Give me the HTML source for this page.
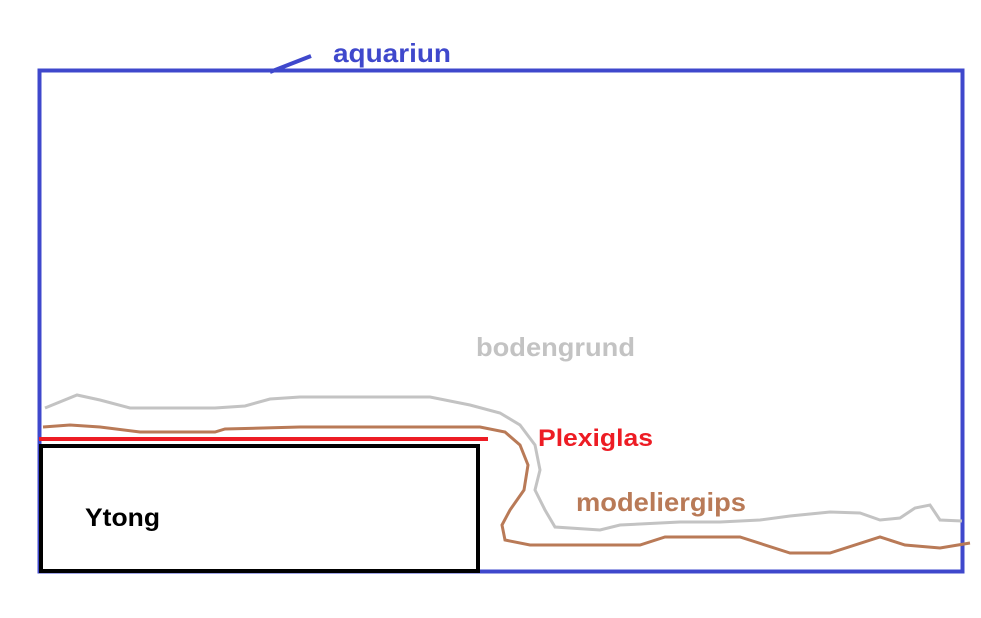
<!DOCTYPE html>
<html><head><style>
body{margin:0;background:#fff;}
svg{display:block}
text{font-family:"Liberation Sans",sans-serif;font-weight:bold}
</style></head><body>
<svg width="981" height="618" viewBox="0 0 981 618">
<rect x="0" y="0" width="981" height="618" fill="#fff"/>
<rect x="39.5" y="70.5" width="923" height="501" fill="none" stroke="#3f48cc" stroke-width="4"/>
<line x1="270" y1="72" x2="311" y2="56" stroke="#3f48cc" stroke-width="4"/>
<text x="333" y="62" font-size="26" fill="#3f48cc" textLength="118" lengthAdjust="spacingAndGlyphs">aquariun</text>
<polyline fill="none" stroke="#c3c3c3" stroke-width="3" points="45,408 77,395 100,400 130,408 215,408 245,406 270,399 300,397 430,397 470,405 500,413 520,425 535,445 540,470 535,490 545,510 555,527 600,530 620,525 680,522 720,522 760,520 790,516 830,512 860,513 880,520 900,518 915,508 930,505 940,520 962,521"/>
<polyline fill="none" stroke="#b97a57" stroke-width="3" points="43,427 70,425 100,427 140,432 215,432 225,429 300,427 480,427 505,432 520,445 528,465 524,490 510,510 502,525 505,540 530,545 640,545 665,537 740,537 790,553 830,553 880,537 905,545 940,548 970,543"/>
<rect x="41" y="446" width="437" height="125" fill="#fff" stroke="#000" stroke-width="4"/>
<line x1="39" y1="439" x2="488" y2="439" stroke="#ed1c24" stroke-width="4"/>
<text x="85" y="526" font-size="25" fill="#000" textLength="75" lengthAdjust="spacingAndGlyphs">Ytong</text>
<text x="538" y="446" font-size="24" fill="#ed1c24" textLength="115" lengthAdjust="spacingAndGlyphs">Plexiglas</text>
<text x="476" y="356" font-size="26" fill="#c3c3c3" textLength="159" lengthAdjust="spacingAndGlyphs">bodengrund</text>
<text x="576" y="511" font-size="26" fill="#b97a57" textLength="170" lengthAdjust="spacingAndGlyphs">modeliergips</text>
</svg>
</body></html>
